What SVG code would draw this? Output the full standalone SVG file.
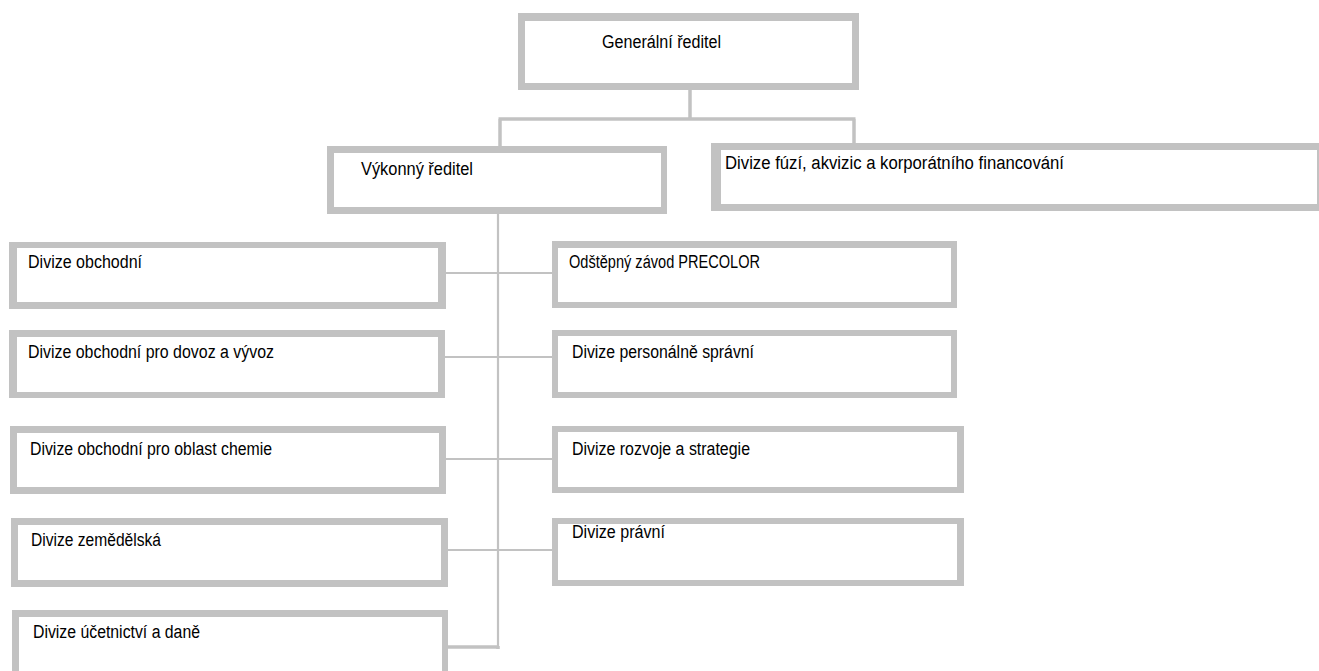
<svg xmlns="http://www.w3.org/2000/svg" width="1319" height="671" viewBox="0 0 1319 671">
<style>
.frame{fill:#c2c2c2}
.inner{fill:#ffffff}
.lbl{font-family:"Liberation Sans",Arial,sans-serif;font-size:18px;fill:#000000}
.wire{stroke:#c2c2c2;fill:none}
.thick{stroke-width:3.5}
.thin{stroke-width:2.2}
</style>
<rect width="1319" height="671" fill="#ffffff"/>
<g id="connectors">
<path class="wire thick" d="M690 90 V119 M498.5 119 H855.5 M500 119 V146 M854 119 V143"/>
<path class="wire thin" d="M498 214 V648"/>
<path class="wire thin" d="M446 273 H552 M445 357 H552 M446 459 H552 M448 550 H552"/>
<path class="wire thick" d="M448 647 H499 M498 646 V649"/>
</g>
<g id="n-generalni">
<rect class="frame" x="518" y="13" width="341" height="77"/>
<rect class="inner" x="525" y="21" width="327" height="62"/>
<text class="lbl" x="602" y="48" textLength="119" lengthAdjust="spacingAndGlyphs">Generální ředitel</text>
</g>
<g id="n-vykonny">
<rect class="frame" x="327" y="146" width="340" height="68"/>
<rect class="inner" x="334" y="153" width="327" height="54"/>
<text class="lbl" x="361" y="175" textLength="112" lengthAdjust="spacingAndGlyphs">Výkonný ředitel</text>
</g>
<g id="n-fuzi">
<rect class="frame" x="711" y="143" width="613" height="68"/>
<rect class="inner" x="721" y="150" width="596" height="54"/>
<text class="lbl" x="725" y="169" textLength="339" lengthAdjust="spacingAndGlyphs">Divize fúzí, akvizic a korporátního financování</text>
</g>
<g id="n-obchodni">
<rect class="frame" x="9" y="242" width="437" height="67"/>
<rect class="inner" x="17" y="248" width="421" height="54"/>
<text class="lbl" x="28" y="268" textLength="114" lengthAdjust="spacingAndGlyphs">Divize obchodní</text>
</g>
<g id="n-dovoz">
<rect class="frame" x="9" y="330" width="436" height="68"/>
<rect class="inner" x="17" y="337" width="421" height="55"/>
<text class="lbl" x="28" y="358" textLength="246" lengthAdjust="spacingAndGlyphs">Divize obchodní pro dovoz a vývoz</text>
</g>
<g id="n-chemie">
<rect class="frame" x="10" y="426" width="436" height="68"/>
<rect class="inner" x="17" y="433" width="422" height="54"/>
<text class="lbl" x="30" y="455" textLength="242" lengthAdjust="spacingAndGlyphs">Divize obchodní pro oblast chemie</text>
</g>
<g id="n-zemedelska">
<rect class="frame" x="11" y="518" width="437" height="69"/>
<rect class="inner" x="18" y="525" width="423" height="55"/>
<text class="lbl" x="31" y="546" textLength="130" lengthAdjust="spacingAndGlyphs">Divize zemědělská</text>
</g>
<g id="n-ucetnictvi">
<rect class="frame" x="12" y="610" width="436" height="70"/>
<rect class="inner" x="19" y="617" width="423" height="63"/>
<text class="lbl" x="33" y="638" textLength="167" lengthAdjust="spacingAndGlyphs">Divize účetnictví a daně</text>
</g>
<g id="n-precolor">
<rect class="frame" x="552" y="241" width="405" height="67"/>
<rect class="inner" x="558" y="248" width="393" height="54"/>
<text class="lbl" x="569" y="268" textLength="191" lengthAdjust="spacingAndGlyphs">Odštěpný závod PRECOLOR</text>
</g>
<g id="n-personalne">
<rect class="frame" x="552" y="330" width="405" height="68"/>
<rect class="inner" x="558" y="336" width="393" height="56"/>
<text class="lbl" x="572" y="358" textLength="182" lengthAdjust="spacingAndGlyphs">Divize personálně správní</text>
</g>
<g id="n-rozvoje">
<rect class="frame" x="552" y="426" width="412" height="67"/>
<rect class="inner" x="558" y="432" width="399" height="55"/>
<text class="lbl" x="572" y="455" textLength="178" lengthAdjust="spacingAndGlyphs">Divize rozvoje a strategie</text>
</g>
<g id="n-pravni">
<rect class="frame" x="552" y="518" width="412" height="68"/>
<rect class="inner" x="558" y="524" width="399" height="56"/>
<text class="lbl" x="572" y="538" textLength="93" lengthAdjust="spacingAndGlyphs">Divize právní</text>
</g>
</svg>
